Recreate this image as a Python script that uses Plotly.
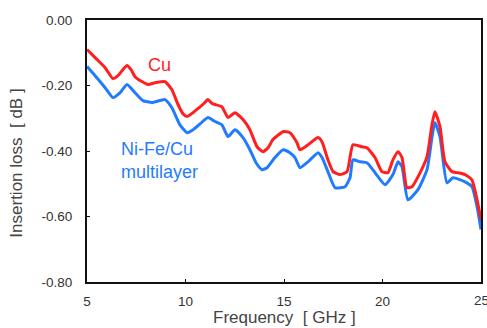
import plotly.graph_objects as go

# Cu curve
cu_freq = [5.00, 5.41, 5.91, 6.32, 6.57, 6.83, 7.03, 7.23, 7.44, 7.79, 8.10, 8.50, 8.96, 9.31, 9.62, 9.87,
           10.08, 10.38, 10.74, 10.94, 11.14, 11.35, 11.50, 11.85, 12.16, 12.51, 12.92, 13.27, 13.63, 13.93,
           14.19, 14.44, 14.95, 15.30, 15.66, 15.81, 16.22, 16.73, 16.93, 17.23, 17.49, 17.84, 18.20, 18.50,
           18.96, 19.21, 19.62, 19.97, 20.28, 20.53, 20.79, 20.99, 21.24, 21.50, 21.80, 22.26, 22.51, 22.66,
           22.92, 23.17, 23.53, 23.78, 24.19, 24.54, 24.80, 25.00]
cu_loss = [-0.090, -0.115, -0.145, -0.179, -0.170, -0.151, -0.139, -0.151, -0.173, -0.188, -0.197, -0.191,
           -0.188, -0.213, -0.258, -0.286, -0.295, -0.283, -0.265, -0.255, -0.243, -0.255, -0.258, -0.265,
           -0.298, -0.283, -0.304, -0.335, -0.387, -0.402, -0.390, -0.365, -0.341, -0.344, -0.375, -0.396,
           -0.381, -0.359, -0.372, -0.427, -0.463, -0.472, -0.463, -0.381, -0.387, -0.390, -0.420, -0.463,
           -0.466, -0.427, -0.402, -0.420, -0.512, -0.509, -0.479, -0.417, -0.320, -0.280, -0.326, -0.433,
           -0.463, -0.466, -0.472, -0.488, -0.549, -0.610]

# Ni-Fe/Cu multilayer curve
nife_freq = [5.00, 5.41, 5.91, 6.32, 6.68, 7.03, 7.44, 7.84, 8.30, 8.96, 9.31, 9.72, 10.08, 10.38, 10.74,
             11.14, 11.50, 11.85, 12.16, 12.51, 12.92, 13.27, 13.58, 13.88, 14.14, 14.54, 14.95, 15.30, 15.56,
             15.81, 16.22, 16.73, 16.93, 17.23, 17.59, 18.10, 18.35, 18.50, 18.86, 19.21, 19.62, 20.13, 20.53,
             20.79, 20.99, 21.29, 21.80, 22.26, 22.51, 22.66, 22.92, 23.27, 23.58, 24.19, 24.54, 24.80, 25.00]
nife_loss = [-0.142, -0.170, -0.206, -0.237, -0.222, -0.197, -0.222, -0.246, -0.252, -0.243, -0.268, -0.320,
             -0.344, -0.335, -0.317, -0.298, -0.310, -0.320, -0.356, -0.335, -0.359, -0.396, -0.436, -0.457,
             -0.451, -0.420, -0.396, -0.405, -0.420, -0.451, -0.433, -0.405, -0.420, -0.463, -0.512, -0.509,
             -0.482, -0.427, -0.433, -0.436, -0.466, -0.503, -0.472, -0.433, -0.448, -0.549, -0.518, -0.457,
             -0.359, -0.313, -0.356, -0.497, -0.482, -0.494, -0.509, -0.570, -0.640]

x_ticks = [5, 10, 15, 20, 25]
y_ticks = [0.0, -0.2, -0.4, -0.6, -0.8]

RED = "#ff1f1f"
BLUE = "#1f7bff"
FONT = "Liberation Sans, Arial, sans-serif"

fig = go.Figure()
fig.add_trace(go.Scatter(x=nife_freq, y=nife_loss, mode="lines",
                         line=dict(color=BLUE, width=3, shape="spline", smoothing=0.5),
                         showlegend=False))
fig.add_trace(go.Scatter(x=cu_freq, y=cu_loss, mode="lines",
                         line=dict(color=RED, width=3, shape="spline", smoothing=0.5),
                         showlegend=False))

fig.add_annotation(x=8.68, y=-0.136, text="Cu", showarrow=False,
                   font=dict(family=FONT, size=18, color=RED), xanchor="center", yanchor="middle")
fig.add_annotation(x=6.62, y=-0.43, text="Ni-Fe/Cu<br>multilayer", showarrow=False, align="left",
                   font=dict(family=FONT, size=18, color=BLUE), xanchor="left", yanchor="middle")

# last x tick label, partly outside the page as in the original
fig.add_annotation(x=x_ticks[-1], xref="x", yref="paper", y=-0.036, text=str(x_ticks[-1]),
                   showarrow=False, xanchor="center", yanchor="top",
                   font=dict(family=FONT, size=13.5, color="#333333"))

# axis titles
fig.add_annotation(xref="paper", yref="paper", x=0.5, y=-0.134, text="Frequency  [ GHz ]",
                   showarrow=False, xanchor="center", yanchor="middle",
                   font=dict(family=FONT, size=17, color="#444444"))
fig.add_annotation(xref="paper", yref="paper", x=-0.178, y=0.455, text="Insertion loss  [ dB ]",
                   showarrow=False, xanchor="center", yanchor="middle", textangle=-90,
                   font=dict(family=FONT, size=17, color="#444444"))

fig.update_layout(
    width=487, height=328,
    margin=dict(l=87, r=6, t=20, b=46),
    paper_bgcolor="white", plot_bgcolor="white",
    font=dict(family=FONT, color="#333333"),
)
fig.update_xaxes(range=[5, 25], tickvals=x_ticks,
                 ticktext=[str(v) for v in x_ticks[:-1]] + [""],
                 showgrid=False, zeroline=False, automargin=False,
                 showline=True, linecolor="#111111", linewidth=2, mirror=True,
                 ticks="inside", ticklen=3, tickcolor="#111111", ticklabelstandoff=6,
                 tickfont=dict(size=13.5, color="#333333"))
fig.update_yaxes(range=[-0.8, 0.0], tickvals=y_ticks, ticktext=["%.2f" % v for v in y_ticks],
                 showgrid=False, zeroline=False, automargin=False,
                 showline=True, linecolor="#111111", linewidth=2, mirror=True,
                 ticks="inside", ticklen=3, tickcolor="#111111", ticklabelstandoff=10,
                 tickfont=dict(size=13.5, color="#333333"))

fig.write_html("out.html", config={"displayModeBar": False},
               post_script="document.body.style.margin='0px';document.body.style.overflow='hidden';")
